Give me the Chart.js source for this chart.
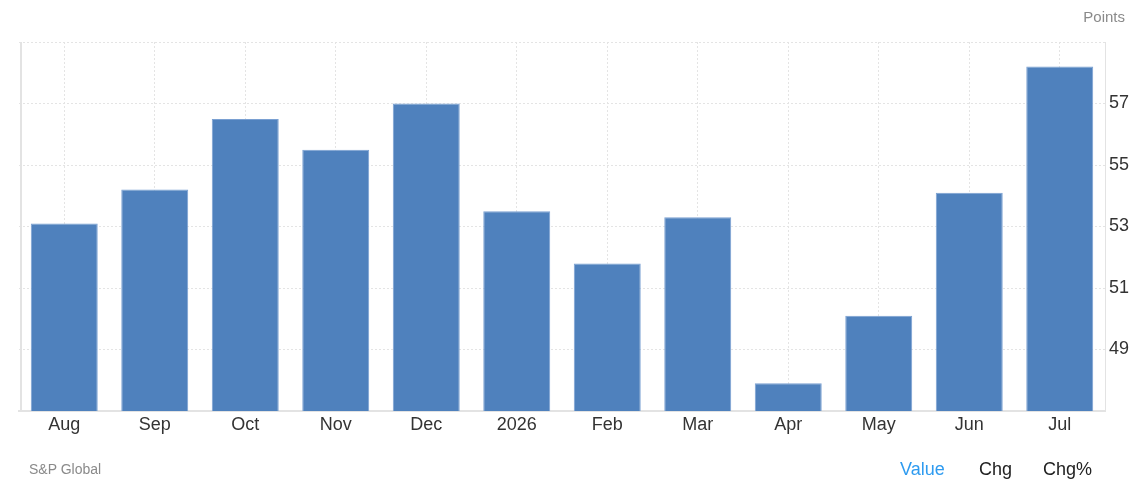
<!DOCTYPE html>
<html><head><meta charset="utf-8">
<script src="https://cdn.jsdelivr.net/npm/chart.js@4"></script>
<style>
html,body{margin:0;padding:0;background:#fff;font-family:"Liberation Sans",Arial,sans-serif;}
#wrap{position:absolute;left:0;top:0;width:1137px;height:482px;}
.t{position:absolute;white-space:nowrap;}
</style></head><body>
<div id="wrap"><canvas id="c" width="1137" height="482"></canvas></div>
<div class="t" style="right:12px;top:8px;font-size:15px;color:#8a8a8a;">Points</div>
<div class="t" style="left:29px;top:461px;font-size:14px;color:#8a8a8a;">S&amp;P Global</div>
<div class="t" style="left:900px;top:459px;font-size:18px;color:#2e9bf0;">Value</div>
<div class="t" style="left:979px;top:459px;font-size:18px;color:#222;">Chg</div>
<div class="t" style="left:1043px;top:459px;font-size:18px;color:#222;">Chg%</div>
<script>
const categories = ["Aug","Sep","Oct","Nov","Dec","2026","Feb","Mar","Apr","May","Jun","Jul"];
const values = [53.1, 54.2, 56.5, 55.5, 57.0, 53.5, 51.8, 53.3, 47.9, 50.1, 54.1, 58.2];
const yMin = 47, yMax = 59, yStep = 2;
const shownTicks = [49, 51, 53, 55, 57];

new Chart(document.getElementById('c'), {
  type: 'bar',
  data: { labels: categories, datasets: [{
    data: values,
    backgroundColor: 'rgb(79,129,189)',
    borderColor: 'rgb(122,160,210)',
    borderWidth: 1,
    barPercentage: 0.74,
    categoryPercentage: 1.0
  }]},
  options: {
    responsive: false, animation: false,
    layout: { padding: { left: 19, right: 0, top: 42, bottom: 41 } },
    plugins: { legend: { display: false }, tooltip: { enabled: false } },
    scales: {
      x: {
        offset: true,
        grid: { offset: false, color: '#e4e4e4', tickLength: 0, drawTicks: false },
        border: { display: true, color: '#e3e3e3', width: 2, dash: [2, 2] },
        ticks: { color: '#333', font: { size: 18, family: 'Liberation Sans' }, padding: 3, maxRotation: 0, autoSkip: false },
        afterFit(s) { s.height = 30; }
      },
      y: {
        position: 'right', min: yMin, max: yMax,
        grid: { color: '#e4e4e4', drawTicks: false },
        border: { display: true, color: '#e3e3e3', width: 1, dash: [2, 2] },
        ticks: { stepSize: yStep, color: '#333', font: { size: 18, family: 'Liberation Sans' }, padding: 4,
          callback: v => shownTicks.includes(v) ? String(v) : '' },
        afterFit(s) { s.width = 32; }
      }
    }
  },
  plugins: [{
    id: 'leftBorder',
    afterDraw(chart) {
      const a = chart.chartArea, ctx = chart.ctx;
      ctx.save();
      ctx.strokeStyle = '#e3e3e3';
      ctx.lineWidth = 2;
      ctx.beginPath();
      ctx.moveTo(a.left + 2, a.top);
      ctx.lineTo(a.left + 2, a.bottom);
      ctx.stroke();
      ctx.restore();
    }
  }]
});
</script>
</body></html>
